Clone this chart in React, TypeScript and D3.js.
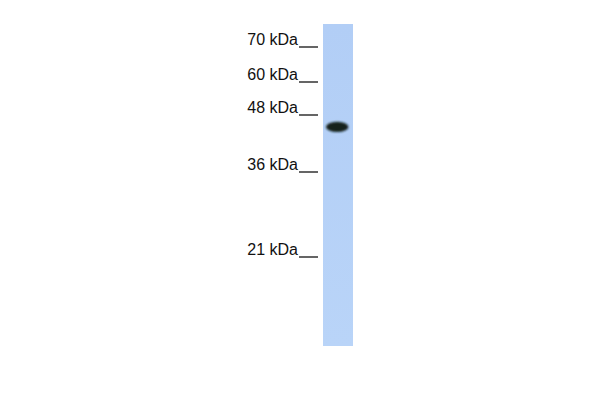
import React, { useEffect, useRef } from "react";
import * as d3 from "d3";

// marker ladder (kDa) and where each marker sits on the blot
const markerKda = [70, 60, 48, 36, 21];
const markerLabels = ["70 kDa", "60 kDa", "48 kDa", "36 kDa", "21 kDa"];
const markerY = [47, 82, 115, 172, 257];

// detected band(s) in the single lane
const bandKda = [45.5];
const bandIntensity = [1];

export default function App() {
	const svgRef = useRef<SVGSVGElement | null>(null);

	useEffect(() => {
		if (!svgRef.current) return;
		const svg = d3.select(svgRef.current);
		svg.selectAll("*").remove();

		const width = 600;
		const height = 400;
		const lane = { x: 323, w: 30, top: 24, bottom: 346 };

		// piecewise calibration: kDa -> y
		const y = d3.scaleLinear().domain(markerKda).range(markerY);

		svg.attr("width", width).attr("height", height);
		svg.append("rect").attr("width", width).attr("height", height).attr("fill", "#fff");

		const defs = svg.append("defs");
		const grad = defs
			.append("linearGradient")
			.attr("id", "laneGrad")
			.attr("x1", 0)
			.attr("y1", 0)
			.attr("x2", 0)
			.attr("y2", 1);
		grad.append("stop").attr("offset", "0%").attr("stop-color", "#b2cef6");
		grad.append("stop").attr("offset", "100%").attr("stop-color", "#b9d4f8");

		const blur = defs.append("filter").attr("id", "bandBlur").attr("x", "-50%").attr("y", "-100%").attr("width", "200%").attr("height", "300%");
		blur.append("feGaussianBlur").attr("stdDeviation", 1.2);

		// lane
		svg
			.append("rect")
			.attr("x", lane.x)
			.attr("y", lane.top)
			.attr("width", lane.w)
			.attr("height", lane.bottom - lane.top)
			.attr("fill", "url(#laneGrad)");

		// bands
		svg
			.selectAll(".band")
			.data(bandKda)
			.enter()
			.append("ellipse")
			.attr("class", "band")
			.attr("cx", lane.x + lane.w / 2 - 0.8)
			.attr("cy", (d) => y(d))
			.attr("rx", 11.2)
			.attr("ry", 5.2)
			.attr("fill", "#13231b")
			.attr("opacity", (_, i) => bandIntensity[i])
			.attr("filter", "url(#bandBlur)");

		// marker labels and ticks
		const g = svg.append("g");
		g.selectAll(".mlabel")
			.data(markerKda)
			.enter()
			.append("text")
			.attr("class", "mlabel")
			.attr("x", 298)
			.attr("y", (d) => y(d) - 2)
			.attr("text-anchor", "end")
			.attr("font-family", "Liberation Sans, Arial, sans-serif")
			.attr("font-size", 16)
			.attr("fill", "#111")
			.text((_, i) => markerLabels[i]);

		g.selectAll(".mtick")
			.data(markerKda)
			.enter()
			.append("line")
			.attr("class", "mtick")
			.attr("x1", 299)
			.attr("x2", 318)
			.attr("y1", (d) => y(d))
			.attr("y2", (d) => y(d))
			.attr("stroke", "#111")
			.attr("stroke-width", 1.3);
	}, []);

	return (
		<div style={{ margin: -8 }}>
			<svg ref={svgRef} style={{ display: "block" }}></svg>
		</div>
	);
}
